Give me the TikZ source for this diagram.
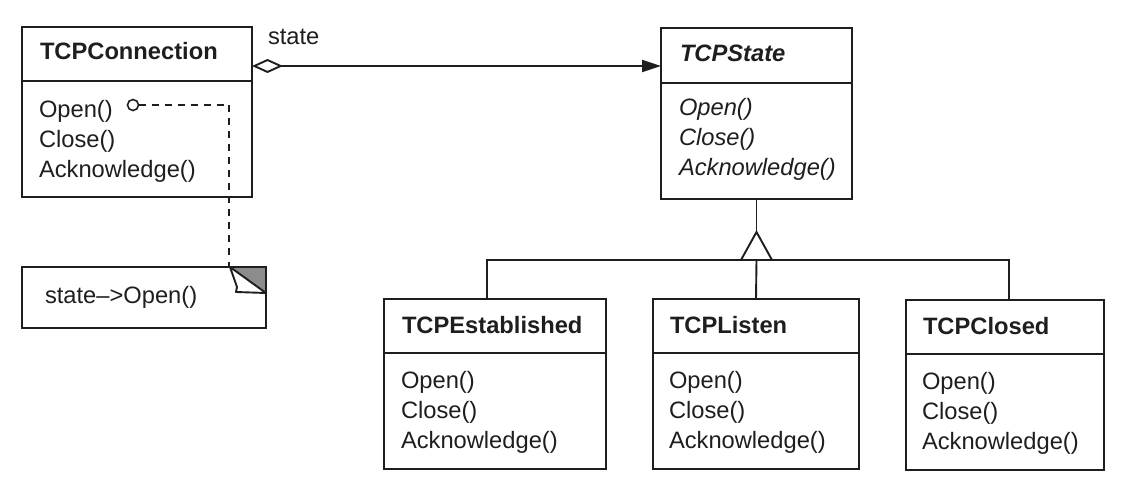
\documentclass[tikz,border=0pt]{standalone}
\usepackage{fontspec}
\setmainfont{Liberation Sans}
\usetikzlibrary{arrows.meta}
\definecolor{ink}{RGB}{30,30,30}
\begin{document}
\begin{tikzpicture}[x=1pt,y=-1pt,
  every node/.style={inner sep=0pt,outer sep=0pt,text=ink},
  box/.style={draw=ink,line width=1.9pt,anchor=north west},
  lbl/.style={font=\fontsize{23.7}{30}\selectfont,anchor=base west},
  ttl/.style={font=\fontsize{23.7}{30}\selectfont\bfseries,anchor=base west},
  ittl/.style={font=\fontsize{23.7}{30}\selectfont\bfseries\itshape,anchor=base west},
  ilbl/.style={font=\fontsize{23.7}{30}\selectfont\itshape,anchor=base west},
  wire/.style={draw=ink,line width=1.9pt},
  dwire/.style={draw=ink,line width=1.4pt,dash pattern=on 7pt off 6pt}]
\useasboundingbox (0,0) rectangle (1138,497);

% TCPConnection
\node[box,minimum width=230pt,minimum height=54pt] (conn-h) at (22,27) {};
\node[box,minimum width=230pt,minimum height=116pt] (conn-b) at (22,81) {};
\node[ttl] (conn-t) at (40,60) {TCPConnection};
\node[lbl] (conn-m1) at (39,118) {Open()};
\node[lbl] (conn-m2) at (39,148) {Close()};
\node[lbl] (conn-m3) at (39,178) {Acknowledge()};

% TCPState
\node[box,minimum width=191pt,minimum height=55pt] (state-h) at (661,28) {};
\node[box,minimum width=191pt,minimum height=116pt] (state-b) at (661,83) {};
\node[ittl] (state-t) at (680,62) {TCPState};
\node[ilbl] (state-m1) at (679,116) {Open()};
\node[ilbl] (state-m2) at (679,146) {Close()};
\node[ilbl] (state-m3) at (679,176) {Acknowledge()};

% TCPEstablished
\node[box,minimum width=222pt,minimum height=54pt] (est-h) at (384,299) {};
\node[box,minimum width=222pt,minimum height=116pt] (est-b) at (384,353) {};
\node[ttl] (est-t) at (402,333) {TCPEstablished};
\node[lbl] (est-m1) at (401,388) {Open()};
\node[lbl] (est-m2) at (401,418) {Close()};
\node[lbl] (est-m3) at (401,448) {Acknowledge()};

% TCPListen
\node[box,minimum width=206pt,minimum height=54pt] (lis-h) at (653,299) {};
\node[box,minimum width=206pt,minimum height=116pt] (lis-b) at (653,353) {};
\node[ttl] (lis-t) at (670,333) {TCPListen};
\node[lbl] (lis-m1) at (669,388) {Open()};
\node[lbl] (lis-m2) at (669,418) {Close()};
\node[lbl] (lis-m3) at (669,448) {Acknowledge()};

% TCPClosed
\node[box,minimum width=198pt,minimum height=54pt] (clo-h) at (906,300) {};
\node[box,minimum width=198pt,minimum height=116pt] (clo-b) at (906,354) {};
\node[ttl] (clo-t) at (923,334) {TCPClosed};
\node[lbl] (clo-m1) at (922,389) {Open()};
\node[lbl] (clo-m2) at (922,419) {Close()};
\node[lbl] (clo-m3) at (922,449) {Acknowledge()};

% aggregation
\draw[wire,{Diamond[open,length=31pt,width=14pt,line width=1.9pt]}-{Triangle[length=19pt,width=12pt]}]
  ([yshift=-12pt]conn-h.east) -- ([yshift=-12pt]conn-h.east -| state-h.west);
\node[lbl] (state-lbl) at (268,45) {state};

% inheritance
\coordinate (apex) at (756.5,232);
\coordinate (j) at (756.5,260);
\draw[wire] (state-b.south) -- (apex);
\draw[wire,fill=white] (741,260) -- (apex) -- (772,260) -- cycle;
\draw[wire] ([xshift=-8pt]est-h.north) |- ([xshift=-15pt]j);
\draw[wire] (lis-h.north) -- (j);
\draw[wire] ([xshift=4pt]clo-h.north) |- ([xshift=15pt]j);
\draw[wire] ([xshift=-15pt]j) -- ([xshift=15pt]j);

% note
\node[anchor=north west,minimum width=244pt,minimum height=61pt] (note) at (22,267) {};
\coordinate (fold) at ([xshift=-36pt]note.north east);
\coordinate (foldr) at ([yshift=-26pt]note.north east);
\fill[black!45] (fold) -- (note.north east) -- (foldr) -- cycle;
\draw[wire,line join=miter] (note.north west) rectangle (note.south east);
\draw[wire,fill=white,line join=round] (fold) -- ([xshift=7pt,yshift=-20pt]fold) -- ([xshift=6pt,yshift=-25pt]fold) -- (foldr) -- cycle;
\node[lbl] (note-t) at (45,303) {state–>Open()};

% note link
\node[circle,draw=ink,line width=1.6pt,minimum size=11pt] (pin) at (133,105) {};
\draw[dwire] (pin.east) -| ([xshift=-1pt]fold);
\end{tikzpicture}
\end{document}
